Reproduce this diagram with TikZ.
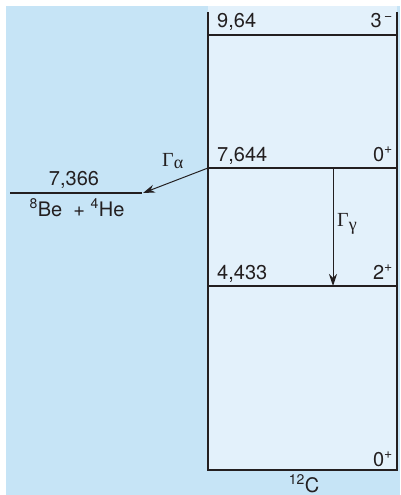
\documentclass[tikz,border=0pt]{standalone}
\usepackage{fontspec}
\setmainfont{TeX Gyre Heros}
\newfontfamily\grk{Liberation Serif}
\usetikzlibrary{arrows.meta}
\definecolor{outerblue}{HTML}{C6E4F6}
\definecolor{innerblue}{HTML}{E3F1FB}
\definecolor{ink}{HTML}{231F20}
\begin{document}
\begin{tikzpicture}[x=1pt,y=-1pt,
  txt/.style={inner sep=0pt,font=\fontsize{20}{23}\selectfont,text=ink},
  lvl/.style={draw=ink,line width=1.5pt},
  trans/.style={draw=ink,line width=1pt,-{Stealth[length=12pt,width=8pt]}}]
\useasboundingbox (0,0) rectangle (400,495);
\fill[outerblue] (6,6) rectangle (400,495);
\fill[innerblue] (208,6) rectangle (397,470);
% box
\draw[lvl] (208,12) -- (208,470) -- (397,470) -- (397,12);
\coordinate (l964a) at (208,35);  \coordinate (l964b) at (397,35);
\coordinate (l7644a) at (208,168); \coordinate (l7644b) at (397,168);
\coordinate (l4433a) at (208,286); \coordinate (l4433b) at (397,286);
\draw[lvl] (l964a) -- (l964b);
\draw[lvl] (l7644a) -- (l7644b);
\draw[lvl] (l4433a) -- (l4433b);
% Be level
\coordinate (bea) at (10,193); \coordinate (beb) at (142,193);
\draw[lvl] (bea) -- (beb);
% texts
\node[txt,anchor=base west] (t964) at (217,28) {9,64};
\node[txt,anchor=base east] (s964) at (393,28) {3\textsuperscript{\,−}};
\node[txt,anchor=base west] (t7644) at (217,161) {7,644};
\node[txt,anchor=base east] (s7644) at (393,161) {0\textsuperscript{+}};
\node[txt,anchor=base west] (t4433) at (217,279) {4,433};
\node[txt,anchor=base east] (s4433) at (393,279) {2\textsuperscript{+}};
\node[txt,anchor=base east] (s0) at (393,466) {0\textsuperscript{+}};
\node[txt,anchor=base] (c12) at (304,492) {\textsuperscript{12}C};
\node[txt,anchor=base] (t7366) at (74,185) {7,366};
\node[txt,anchor=base] (tbe) at (77,216) {\textsuperscript{8}Be\ \ +\ \textsuperscript{4}He};
% transitions
\coordinate (astart) at (208,168);
\coordinate (aend) at (143,193);
\draw[trans] (astart) -- (aend);
\node[txt,anchor=base west] (ga) at (162,166) {{\grk Γ}\raisebox{-0.25ex}{\grk\fontsize{18}{20}\selectfont α}};
\coordinate (gstart) at (333,168);
\coordinate (gend) at (333,286);
\draw[trans] (gstart) -- (gend);
\node[txt,anchor=base west] (gg) at (337,226) {{\grk Γ}\raisebox{-0.4ex}{\grk\fontsize{18}{20}\selectfont γ}};
\end{tikzpicture}
\end{document}
